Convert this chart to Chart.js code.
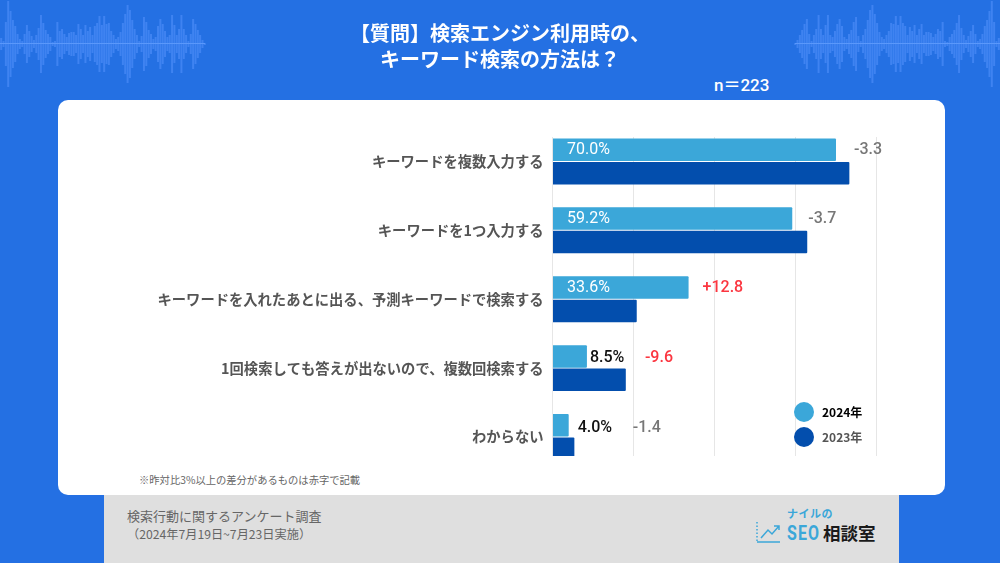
<!DOCTYPE html>
<html lang="ja">
<head>
<meta charset="utf-8">
<script src="https://cdn.jsdelivr.net/npm/chart.js@4/dist/chart.umd.min.js"></script>
<style>
  html, body { margin: 0; padding: 0; }
  body { width: 1000px; height: 563px; overflow: hidden; position: relative; background: #2470e3;
         font-family: "Noto Sans CJK JP", sans-serif; }
  .abs { position: absolute; white-space: nowrap; }
  #card { left: 58px; top: 100px; width: 887px; height: 395px; background: #fff; border-radius: 10px; }
  #foot { left: 104px; top: 495px; width: 795px; height: 68px; background: #dfdfdf; }
  /* the plot runs on below the visible area, the last bar is cut off at the bottom */
  #plot { left: 58px; top: 137px; width: 887px; height: 319px; overflow: hidden; }
  #plotInner { position: absolute; left: 0; top: -37px; width: 887px; height: 389px; }
  .title { left: 0; width: 1000px; text-align: center; color: #fff; font-size: 20px; font-weight: 700; line-height: 26px; }
  .wave-line { top: 43px; width: 205px; height: 1px; background: #5a98fb; }
</style>
</head>
<body>
<canvas id="waveL" class="abs" style="left:0;top:0" width="206" height="88"></canvas>
<canvas id="waveR" class="abs" style="left:794px;top:0" width="206" height="88"></canvas>
<div class="abs wave-line" style="left:0"></div>
<div class="abs wave-line" style="left:795px"></div>

<div class="abs title" style="top:20px">【質問】検索エンジン利用時の、</div>
<div class="abs title" style="top:46px">キーワード検索の方法は？</div>
<div class="abs" style="left:714px;top:74px;color:#fff;font:500 17px Roboto,'Noto Sans CJK JP';line-height:22px">n＝223</div>

<div id="card" class="abs"></div>
<div id="foot" class="abs"></div>
<div id="plot" class="abs"><div id="plotInner"><canvas id="chart" width="887" height="389"></canvas></div></div>

<div class="abs" style="left:139px;top:472px;font-size:10.3px;line-height:15px;color:#666">※昨対比3%以上の差分があるものは赤字で記載</div>
<div class="abs" style="left:127px;top:506px;font-size:13px;line-height:20px;color:#666">検索行動に関するアンケート調査</div>
<div class="abs" style="left:127px;top:524px;font-size:12.2px;line-height:20px;color:#666">（2024年7月19日~7月23日実施）</div>

<!-- logo -->
<svg class="abs" style="left:755px;top:520px" width="28" height="26" fill="none" stroke="#3ba7d9" stroke-width="1.5">
  <path d="M2 2V22" stroke-dasharray="1.5 2"/>
  <path d="M2 22H25"/>
  <path d="M6 18L13 10L17 14L24 6M19 6H24V10"/>
</svg>
<div class="abs" style="left:787px;top:505px;font-size:11px;font-weight:700;line-height:16px;color:#3ba7d9;letter-spacing:.5px">ナイルの</div>
<div class="abs" style="left:787px;top:520px;font:700 21px Roboto;line-height:26px;color:#3ba7d9;letter-spacing:1.5px;transform:scaleX(.76);transform-origin:left">SEO</div>
<div class="abs" style="left:823px;top:520px;font-size:17.5px;font-weight:700;line-height:26px;color:#1a1a1a">相談室</div>

<script>
// chart data
const categories = [
  'キーワードを複数入力する',
  'キーワードを1つ入力する',
  'キーワードを入れたあとに出る、予測キーワードで検索する',
  '1回検索しても答えが出ないので、複数回検索する',
  'わからない'
];
const seriesNames = ['2024年', '2023年'];
const values2024 = [70.0, 59.2, 33.6, 8.5, 4.0];
const values2023 = [73.3, 62.9, 20.8, 18.1, 5.4];
const deltas = ['-3.3', '-3.7', '+12.8', '-9.6', '-1.4'];
const deltaIsRed = [false, false, true, true, false];
const xTicks = [0, 20, 40, 60, 80];

// background waveform heights (half height, px)
const waveHeights = [6, 3, 22, 43, 33, 24, 18, 10, 5, 3, 10, 19, 13, 8, 4, 9, 16, 29, 21, 14, 10, 7, 2, 3,
  22, 13, 15, 10, 7, 11, 12, 12, 9, 20, 15, 9, 19, 13, 17, 9, 18, 21, 28, 19, 28, 20,
  21, 13, 9, 5, 7, 12, 21, 30, 39, 34, 24, 15, 9, 3, 8, 27, 22, 14, 10, 5, 7, 18, 25, 20, 13, 7, 9,
  29, 19, 9, 15, 29, 15, 9, 3, 10, 25, 20, 14, 9, 4, 1];

// label placement, px from the end of the 2024 bar
const valueGaps = [null, null, null, 3, 9];
const deltaGaps = [18, 16, 14, 58, 64];
const labelNudgeY = [0.5, 0.5, 1, 1.5, 3];

const BLUE_2024 = '#3ba7d9';
const BLUE_2023 = '#034ead';

const barLabels = {
  id: 'barLabels',
  afterDatasetsDraw(chart) {
    const ctx = chart.ctx;
    const x0 = chart.scales.x.getPixelForValue(0);
    ctx.save();
    ctx.textBaseline = 'middle';
    ctx.textAlign = 'left';
    chart.getDatasetMeta(0).data.forEach((bar, i) => {
      const y = bar.y + labelNudgeY[i];
      if (valueGaps[i] === null) {
        ctx.font = '400 16px Roboto';
        ctx.fillStyle = '#fff';
        ctx.fillText(values2024[i].toFixed(1) + '%', x0 + 14.5, y);
      } else {
        ctx.font = '500 16px Roboto';
        ctx.fillStyle = '#111';
        ctx.fillText(values2024[i].toFixed(1) + '%', bar.x + valueGaps[i], y);
      }
      ctx.font = '500 16px Roboto';
      ctx.fillStyle = deltaIsRed[i] ? '#fb3640' : '#777';
      ctx.fillText(deltas[i], bar.x + deltaGaps[i], y);
    });
    // legend sits inside the plot, bottom right
    const colors = [BLUE_2024, BLUE_2023];
    const textColors = ['#000', '#555'];
    seriesNames.forEach((name, i) => {
      const y = 312 + i * 25;
      ctx.fillStyle = colors[i];
      ctx.beginPath();
      ctx.arc(746, y, 10, 0, Math.PI * 2);
      ctx.fill();
      ctx.fillStyle = textColors[i];
      ctx.font = '700 12px "Noto Sans CJK JP"';
      ctx.fillText(name, 764, y);
    });
    ctx.restore();
  }
};

new Chart(document.getElementById('chart'), {
  type: 'bar',
  data: {
    labels: categories,
    datasets: [
      { label: seriesNames[0], data: values2024, backgroundColor: BLUE_2024, borderRadius: 1 },
      { label: seriesNames[1], data: values2023, backgroundColor: BLUE_2023, borderRadius: 1 }
    ]
  },
  options: {
    indexAxis: 'y',
    responsive: false,
    animation: false,
    categoryPercentage: 0.68,
    barPercentage: 0.96,
    layout: { autoPadding: false, padding: { top: 27, right: 68.5, bottom: 0.5, left: 0 } },
    plugins: { legend: { display: false }, tooltip: { enabled: false } },
    scales: {
      x: {
        min: 0,
        max: 80,
        afterBuildTicks(axis) { axis.ticks = xTicks.map(v => ({ value: v })); },
        ticks: { display: false },
        border: { display: false },
        grid: { color: '#e6e6e6', lineWidth: 1, drawTicks: false }
      },
      y: {
        afterFit(axis) { axis.width = 494.5; },
        border: { display: false },
        grid: { display: false, drawTicks: false },
        ticks: {
          padding: 9,
          color: '#555',
          autoSkip: false,
          font: { family: '"Noto Sans CJK JP"', size: 14.3, weight: 700 }
        }
      }
    }
  },
  plugins: [barLabels]
});

function drawWave(id, heights) {
  new Chart(document.getElementById(id), {
    type: 'bar',
    data: {
      labels: heights.map((_, i) => i),
      datasets: [{ data: heights.map(h => [-h, h]), backgroundColor: '#3f83f1' }]
    },
    options: {
      responsive: false,
      animation: false,
      categoryPercentage: 1,
      barPercentage: 0.86,
      plugins: { legend: { display: false }, tooltip: { enabled: false } },
      scales: {
        x: { display: false },
        y: { display: false, min: -44, max: 44 }
      }
    }
  });
}
drawWave('waveL', waveHeights);
drawWave('waveR', waveHeights.slice().reverse());
</script>
</body>
</html>
